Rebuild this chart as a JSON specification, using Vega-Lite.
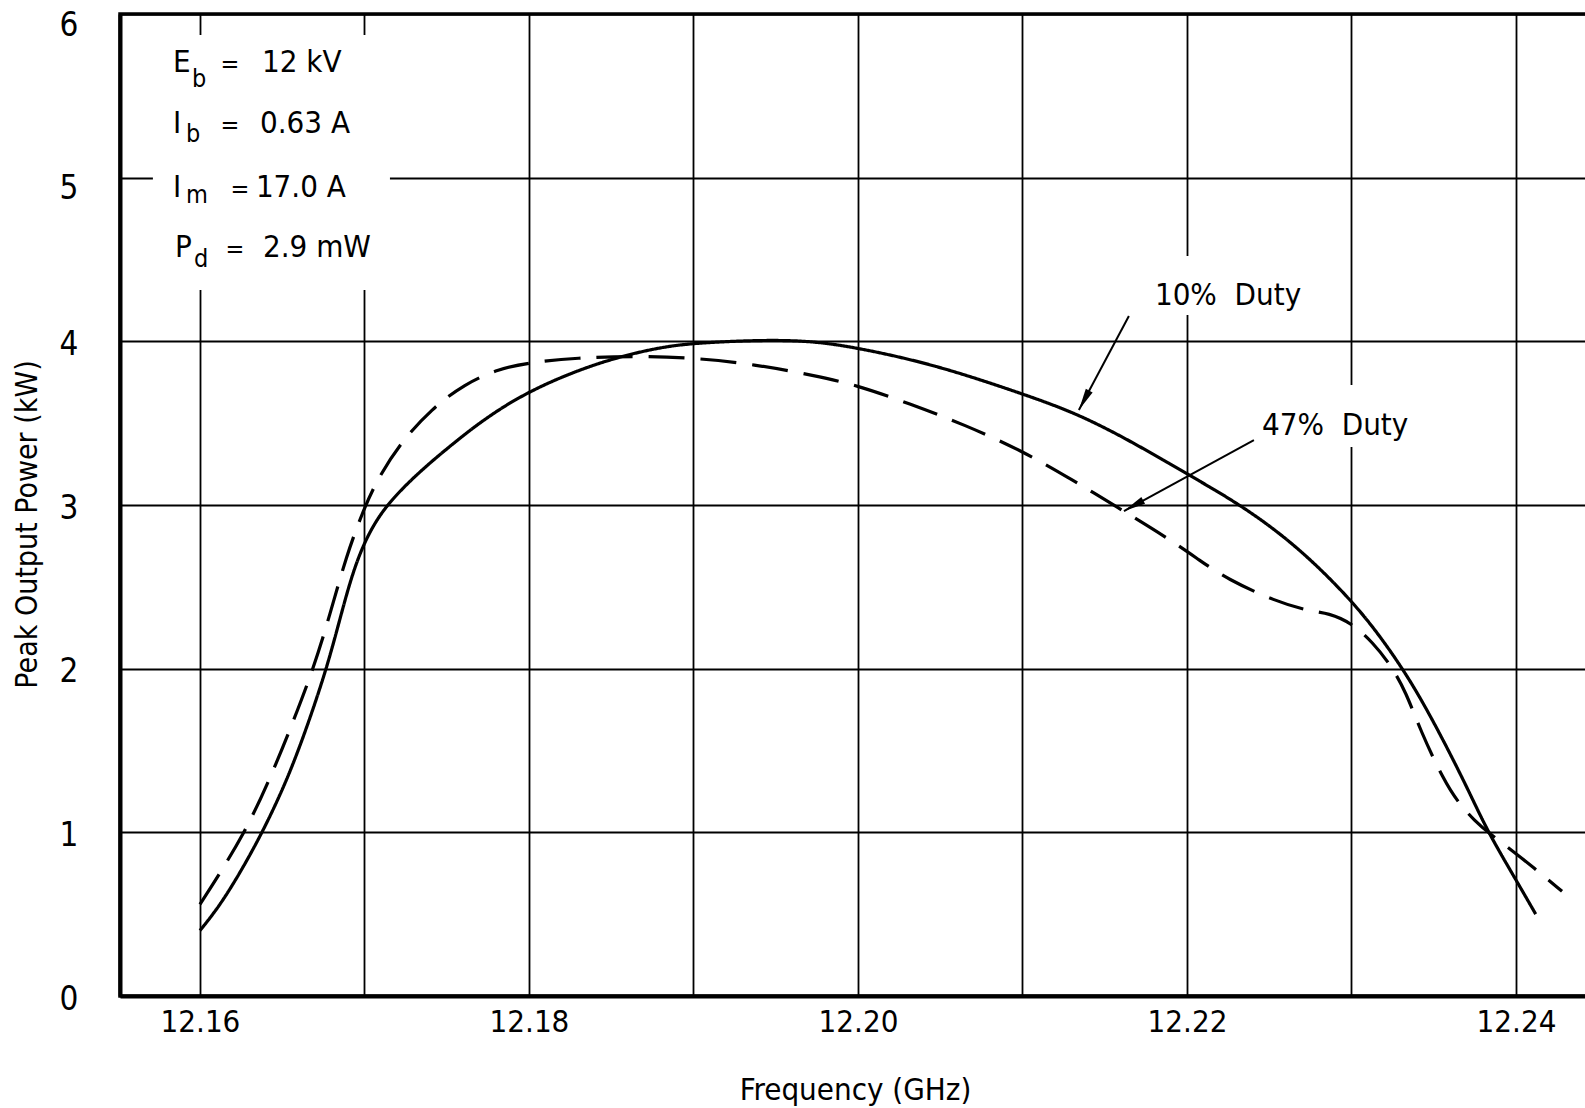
{
  "$schema": "https://vega.github.io/schema/vega-lite/v6.json",
  "width": 1470,
  "height": 982,
  "autosize": {"type": "none"},
  "padding": {"left": 120, "top": 14, "right": 0, "bottom": 112},
  "background": "white",
  "config": {
    "view": {"stroke": "black", "strokeWidth": 3.5},
    "font": "DejaVu Sans Condensed, sans-serif",
    "text": {"font": "DejaVu Sans Condensed, sans-serif", "color": "black"}
  },
  "datasets": {
    "curves": [
      {"f": 12.1600, "p": 0.40, "s": "10% Duty"},
      {"f": 12.1612, "p": 0.55, "s": "10% Duty"},
      {"f": 12.1626, "p": 0.78, "s": "10% Duty"},
      {"f": 12.1639, "p": 1.02, "s": "10% Duty"},
      {"f": 12.1653, "p": 1.32, "s": "10% Duty"},
      {"f": 12.1665, "p": 1.64, "s": "10% Duty"},
      {"f": 12.1677, "p": 2.00, "s": "10% Duty"},
      {"f": 12.1685, "p": 2.30, "s": "10% Duty"},
      {"f": 12.1692, "p": 2.56, "s": "10% Duty"},
      {"f": 12.1700, "p": 2.78, "s": "10% Duty"},
      {"f": 12.1712, "p": 2.99, "s": "10% Duty"},
      {"f": 12.1733, "p": 3.20, "s": "10% Duty"},
      {"f": 12.1752, "p": 3.36, "s": "10% Duty"},
      {"f": 12.1772, "p": 3.52, "s": "10% Duty"},
      {"f": 12.1800, "p": 3.70, "s": "10% Duty"},
      {"f": 12.1841, "p": 3.87, "s": "10% Duty"},
      {"f": 12.1877, "p": 3.96, "s": "10% Duty"},
      {"f": 12.1900, "p": 3.99, "s": "10% Duty"},
      {"f": 12.1945, "p": 4.01, "s": "10% Duty"},
      {"f": 12.1974, "p": 4.00, "s": "10% Duty"},
      {"f": 12.2000, "p": 3.96, "s": "10% Duty"},
      {"f": 12.2046, "p": 3.86, "s": "10% Duty"},
      {"f": 12.2100, "p": 3.68, "s": "10% Duty"},
      {"f": 12.2133, "p": 3.56, "s": "10% Duty"},
      {"f": 12.2166, "p": 3.39, "s": "10% Duty"},
      {"f": 12.2200, "p": 3.19, "s": "10% Duty"},
      {"f": 12.2233, "p": 3.00, "s": "10% Duty"},
      {"f": 12.2267, "p": 2.75, "s": "10% Duty"},
      {"f": 12.2300, "p": 2.42, "s": "10% Duty"},
      {"f": 12.2318, "p": 2.19, "s": "10% Duty"},
      {"f": 12.2331, "p": 2.00, "s": "10% Duty"},
      {"f": 12.2342, "p": 1.82, "s": "10% Duty"},
      {"f": 12.2356, "p": 1.56, "s": "10% Duty"},
      {"f": 12.2371, "p": 1.26, "s": "10% Duty"},
      {"f": 12.2383, "p": 1.00, "s": "10% Duty"},
      {"f": 12.2400, "p": 0.71, "s": "10% Duty"},
      {"f": 12.2412, "p": 0.50, "s": "10% Duty"},
      {"f": 12.1600, "p": 0.56, "s": "47% Duty"},
      {"f": 12.1628, "p": 1.00, "s": "47% Duty"},
      {"f": 12.1646, "p": 1.41, "s": "47% Duty"},
      {"f": 12.1656, "p": 1.66, "s": "47% Duty"},
      {"f": 12.1669, "p": 2.00, "s": "47% Duty"},
      {"f": 12.1679, "p": 2.33, "s": "47% Duty"},
      {"f": 12.1689, "p": 2.69, "s": "47% Duty"},
      {"f": 12.1699, "p": 2.96, "s": "47% Duty"},
      {"f": 12.1707, "p": 3.14, "s": "47% Duty"},
      {"f": 12.1721, "p": 3.37, "s": "47% Duty"},
      {"f": 12.1741, "p": 3.59, "s": "47% Duty"},
      {"f": 12.1761, "p": 3.74, "s": "47% Duty"},
      {"f": 12.1781, "p": 3.83, "s": "47% Duty"},
      {"f": 12.1800, "p": 3.87, "s": "47% Duty"},
      {"f": 12.1829, "p": 3.90, "s": "47% Duty"},
      {"f": 12.1865, "p": 3.91, "s": "47% Duty"},
      {"f": 12.1900, "p": 3.90, "s": "47% Duty"},
      {"f": 12.1937, "p": 3.86, "s": "47% Duty"},
      {"f": 12.1974, "p": 3.79, "s": "47% Duty"},
      {"f": 12.2000, "p": 3.73, "s": "47% Duty"},
      {"f": 12.2031, "p": 3.62, "s": "47% Duty"},
      {"f": 12.2065, "p": 3.49, "s": "47% Duty"},
      {"f": 12.2100, "p": 3.33, "s": "47% Duty"},
      {"f": 12.2131, "p": 3.15, "s": "47% Duty"},
      {"f": 12.2157, "p": 2.99, "s": "47% Duty"},
      {"f": 12.2188, "p": 2.80, "s": "47% Duty"},
      {"f": 12.2208, "p": 2.66, "s": "47% Duty"},
      {"f": 12.2224, "p": 2.55, "s": "47% Duty"},
      {"f": 12.2254, "p": 2.41, "s": "47% Duty"},
      {"f": 12.2275, "p": 2.35, "s": "47% Duty"},
      {"f": 12.2286, "p": 2.34, "s": "47% Duty"},
      {"f": 12.2300, "p": 2.28, "s": "47% Duty"},
      {"f": 12.2313, "p": 2.16, "s": "47% Duty"},
      {"f": 12.2324, "p": 2.02, "s": "47% Duty"},
      {"f": 12.2333, "p": 1.86, "s": "47% Duty"},
      {"f": 12.2342, "p": 1.62, "s": "47% Duty"},
      {"f": 12.2356, "p": 1.32, "s": "47% Duty"},
      {"f": 12.2365, "p": 1.18, "s": "47% Duty"},
      {"f": 12.2375, "p": 1.07, "s": "47% Duty"},
      {"f": 12.2383, "p": 1.00, "s": "47% Duty"},
      {"f": 12.2400, "p": 0.87, "s": "47% Duty"},
      {"f": 12.2410, "p": 0.79, "s": "47% Duty"},
      {"f": 12.2428, "p": 0.64, "s": "47% Duty"}
    ],
    "boxes": [
      {"f": 12.15714, "f2": 12.17155, "p": 5.872, "p2": 4.314},
      {"f": 12.21775, "f2": 12.22687, "p": 4.521, "p2": 4.161},
      {"f": 12.22413, "f2": 12.23356, "p": 3.733, "p2": 3.354}
    ],
    "arrows": [
      {"name": "10", "f": 12.21647, "p": 4.155, "f2": 12.21343, "p2": 3.580},
      {"name": "47", "f": 12.22407, "p": 3.397, "f2": 12.21617, "p2": 2.963}
    ],
    "mainText": [
      {"f": 12.15836, "p": 5.645, "t": "E"},
      {"f": 12.15836, "p": 5.273, "t": "I"},
      {"f": 12.15836, "p": 4.882, "t": "I"},
      {"f": 12.15848, "p": 4.515, "t": "P"},
      {"f": 12.16377, "p": 5.645, "t": "12 kV"},
      {"f": 12.16365, "p": 5.273, "t": "0.63 A"},
      {"f": 12.16340, "p": 4.882, "t": "17.0 A"},
      {"f": 12.16383, "p": 4.515, "t": "2.9 mW"}
    ],
    "subText": [
      {"f": 12.15951, "p": 5.554, "t": "b"},
      {"f": 12.15915, "p": 5.218, "t": "b"},
      {"f": 12.15915, "p": 4.845, "t": "m"},
      {"f": 12.15964, "p": 4.454, "t": "d"}
    ],
    "eqText": [
      {"f": 12.16182, "p": 5.645, "t": "="},
      {"f": 12.16182, "p": 5.273, "t": "="},
      {"f": 12.16243, "p": 4.882, "t": "="},
      {"f": 12.16213, "p": 4.515, "t": "="}
    ],
    "dutyText": [
      {"f": 12.21805, "p": 4.222, "t": "10%\u00a0 Duty"},
      {"f": 12.22456, "p": 3.428, "t": "47%\u00a0 Duty"}
    ]
  },
  "encoding": {
    "x": {
      "field": "f",
      "type": "quantitative",
      "scale": {"domain": [12.15514, 12.2445], "nice": false, "zero": false},
      "axis": {
        "title": "Frequency (GHz)",
        "values": [12.16, 12.17, 12.18, 12.19, 12.2, 12.21, 12.22, 12.23, 12.24],
        "labelExpr": "round(datum.value * 100) % 2 == 0 ? format(datum.value, '.2f') : ''",
        "grid": true,
        "gridColor": "black",
        "gridOpacity": 1,
        "gridWidth": 1.8,
        "domain": true,
        "domainColor": "black",
        "domainWidth": 4,
        "ticks": false,
        "tickSize": 0,
        "labelPadding": 11,
        "labelBaseline": "top",
        "labelFontSize": 31,
        "labelColor": "black",
        "labelFont": "DejaVu Sans Condensed, sans-serif",
        "labelFlush": false,
        "titleFont": "DejaVu Sans Condensed, sans-serif",
        "titleFontSize": 31,
        "titleFontWeight": "normal",
        "titleColor": "black",
        "titleBaseline": "alphabetic",
        "titleY": 103
      }
    },
    "y": {
      "field": "p",
      "type": "quantitative",
      "scale": {"domain": [0, 6], "nice": false},
      "axis": {
        "title": "Peak Output Power (kW)",
        "values": [0, 1, 2, 3, 4, 5, 6],
        "grid": true,
        "gridColor": "black",
        "gridOpacity": 1,
        "gridWidth": 1.8,
        "domain": true,
        "domainColor": "black",
        "domainWidth": 4,
        "ticks": false,
        "tickSize": 0,
        "labelPadding": 42,
        "labelFontSize": 33,
        "labelColor": "black",
        "labelFont": "DejaVu Sans Condensed, sans-serif",
        "labelFlush": false,
        "labelOffset": {"condition": {"test": "datum.value >= 5", "value": 11}, "value": 3},
        "titleFont": "DejaVu Sans Condensed, sans-serif",
        "titleFontSize": 30,
        "titleFontWeight": "normal",
        "titleColor": "black",
        "titleAngle": -90,
        "titleAlign": "center",
        "titleBaseline": "alphabetic",
        "titleX": -84,
        "titleY": 510
      }
    }
  },
  "layer": [
    {
      "data": {"name": "boxes"},
      "mark": {"type": "rect", "fill": "white", "stroke": null},
      "encoding": {"x2": {"field": "f2"}, "y2": {"field": "p2"}}
    },
    {
      "data": {"name": "curves"},
      "mark": {"type": "line", "color": "black", "strokeWidth": 3.2, "interpolate": "basis", "clip": true},
      "encoding": {
        "detail": {"field": "s"},
        "strokeDash": {
          "field": "s",
          "type": "nominal",
          "scale": {"domain": ["10% Duty", "47% Duty"], "range": [[1, 0], [36, 16]]},
          "legend": null
        }
      }
    },
    {
      "data": {"name": "arrows"},
      "mark": {"type": "rule", "color": "black", "strokeWidth": 2},
      "encoding": {"x2": {"field": "f2"}, "y2": {"field": "p2"}}
    },
    {
      "data": {"name": "arrows"},
      "transform": [{"filter": "datum.name == '10'"}],
      "mark": {"type": "point", "filled": true, "color": "black", "opacity": 1, "shape": "M0,0 L-0.35,2 L0.35,2 Z", "size": 484, "angle": 208},
      "encoding": {"x": {"field": "f2", "type": "quantitative"}, "y": {"field": "p2", "type": "quantitative"}}
    },
    {
      "data": {"name": "arrows"},
      "transform": [{"filter": "datum.name == '47'"}],
      "mark": {"type": "point", "filled": true, "color": "black", "opacity": 1, "shape": "M0,0 L-0.35,2 L0.35,2 Z", "size": 484, "angle": 241},
      "encoding": {"x": {"field": "f2", "type": "quantitative"}, "y": {"field": "p2", "type": "quantitative"}}
    },
    {
      "data": {"name": "mainText"},
      "mark": {"type": "text", "align": "left", "baseline": "alphabetic", "fontSize": 31, "color": "black"},
      "encoding": {"text": {"field": "t"}}
    },
    {
      "data": {"name": "subText"},
      "mark": {"type": "text", "align": "left", "baseline": "alphabetic", "fontSize": 25, "color": "black"},
      "encoding": {"text": {"field": "t"}}
    },
    {
      "data": {"name": "eqText"},
      "mark": {"type": "text", "align": "center", "baseline": "alphabetic", "fontSize": 25, "color": "black"},
      "encoding": {"text": {"field": "t"}}
    },
    {
      "data": {"name": "dutyText"},
      "mark": {"type": "text", "align": "left", "baseline": "alphabetic", "fontSize": 31, "color": "black"},
      "encoding": {"text": {"field": "t"}}
    }
  ]
}
